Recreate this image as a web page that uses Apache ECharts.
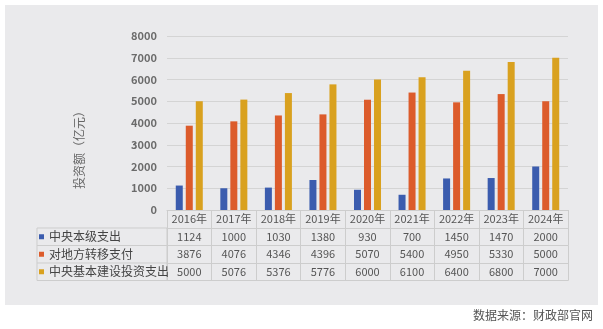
<!DOCTYPE html>
<html>
<head>
<meta charset="utf-8">
<script src="https://cdn.jsdelivr.net/npm/echarts@6/dist/echarts.min.js"></script>
<style>
  html, body { margin: 0; padding: 0; background: #fff; }
  #chart { width: 603px; height: 329px; }
</style>
</head>
<body>
<div id="chart"></div>
<script>
// 年份与三类投资支出（亿元）
const years = ['2016年', '2017年', '2018年', '2019年', '2020年', '2021年', '2022年', '2023年', '2024年'];
const seriesNames = ['中央本级支出', '对地方转移支付', '中央基本建设投资支出'];
const centralSpend = [1124, 1000, 1030, 1380, 930, 700, 1450, 1470, 2000];
const transferPay = [3876, 4076, 4346, 4396, 5070, 5400, 4950, 5330, 5000];
const capitalSpend = [5000, 5076, 5376, 5776, 6000, 6100, 6400, 6800, 7000];
const yTicks = [0, 1000, 2000, 3000, 4000, 5000, 6000, 7000, 8000];
const colors = ['#3b5cae', '#dc5b2b', '#d9a11f'];

const rows = [centralSpend, transferPay, capitalSpend];
const FONT = '"Noto Sans CJK SC", "Noto Sans", sans-serif';
const BORDER = '#cdcdcd';
const ROW_H = 17.5;
const HEAD_H = 18;

// 表格中每行数值用一条偏移的类目轴绘制：轴线为行上边框，刻度为单元格竖线
const rowAxes = rows.map((vals, k) => ({
  type: 'category',
  data: years,
  position: 'bottom',
  offset: HEAD_H + k * ROW_H,
  axisLine: { show: true, onZero: false, lineStyle: { color: BORDER } },
  axisTick: { show: true, interval: 0, length: ROW_H, lineStyle: { color: BORDER } },
  axisLabel: {
    interval: 0,
    margin: ROW_H / 2, verticalAlign: 'middle', color: '#555', fontSize: 11, fontFamily: FONT,
    formatter: (v, i) => String(vals[i])
  },
  splitLine: { show: false }
}));

const chart = echarts.init(document.getElementById('chart'));
chart.setOption({
  backgroundColor: '#ffffff',
  animation: false,
  textStyle: { fontFamily: FONT },
  title: {
    text: '数据来源：财政部官网',
    right: 5, bottom: 3,
    textStyle: { fontSize: 12, fontWeight: 'normal', color: '#555', fontFamily: FONT }
  },
  graphic: [
    { type: 'rect', z: -10, shape: { x: 5, y: 5, width: 593, height: 300 }, style: { fill: '#eaeaec' } },
    { type: 'rect', z: 1, shape: { x: 37, y: 210 + HEAD_H, width: 130, height: ROW_H * 3 }, style: { fill: 'none', stroke: BORDER, lineWidth: 1 } },
    { type: 'line', z: 1, shape: { x1: 37, y1: 210 + HEAD_H + ROW_H, x2: 167, y2: 210 + HEAD_H + ROW_H }, style: { stroke: BORDER } },
    { type: 'line', z: 1, shape: { x1: 37, y1: 210 + HEAD_H + 2 * ROW_H, x2: 167, y2: 210 + HEAD_H + 2 * ROW_H }, style: { stroke: BORDER } }
  ],
  legend: {
    orient: 'vertical',
    left: 39, top: 210 + HEAD_H,
    padding: 0,
    itemGap: 0,
    itemWidth: 5, itemHeight: 5,
    icon: 'rect',
    selectedMode: false,
    data: seriesNames,
    textStyle: { fontSize: 12, color: '#444', lineHeight: ROW_H, fontFamily: FONT }
  },
  grid: { left: 167, right: 35, top: 36, bottom: 119, containLabel: false },
  xAxis: [
    {
      type: 'category',
      data: years,
      position: 'bottom',
      axisLine: { show: true, onZero: false, lineStyle: { color: BORDER } },
      axisTick: { show: true, interval: 0, length: HEAD_H, lineStyle: { color: BORDER } },
      axisLabel: { interval: 0, margin: HEAD_H / 2, verticalAlign: 'middle', color: '#555', fontSize: 11, fontFamily: FONT },
      splitLine: { show: false }
    },
    ...rowAxes,
    {
      type: 'category',
      data: years,
      position: 'bottom',
      offset: HEAD_H + 3 * ROW_H,
      axisLine: { show: true, onZero: false, lineStyle: { color: BORDER } },
      axisTick: { show: false },
      axisLabel: { show: false }
    }
  ],
  yAxis: {
    type: 'value',
    min: yTicks[0], max: yTicks[yTicks.length - 1], interval: 1000,
    name: '投资额（亿元）',
    nameLocation: 'middle',
    nameGap: 82,
    nameTextStyle: { color: '#666', fontSize: 12, fontFamily: FONT, padding: [0, 48, 0, 0] },
    axisLine: { show: false },
    axisTick: { show: false },
    axisLabel: { color: '#6b6b6b', fontSize: 11, fontWeight: 'bold', margin: 10, fontFamily: FONT, formatter: v => String(v) },
    splitLine: { lineStyle: { color: '#d4d4d4' } }
  },
  series: rows.map((vals, k) => ({
    name: seriesNames[k],
    type: 'bar',
    xAxisIndex: 0,
    data: vals,
    barWidth: 7,
    barGap: '43%',
    itemStyle: { color: colors[k] }
  }))
});
</script>
</body>
</html>
